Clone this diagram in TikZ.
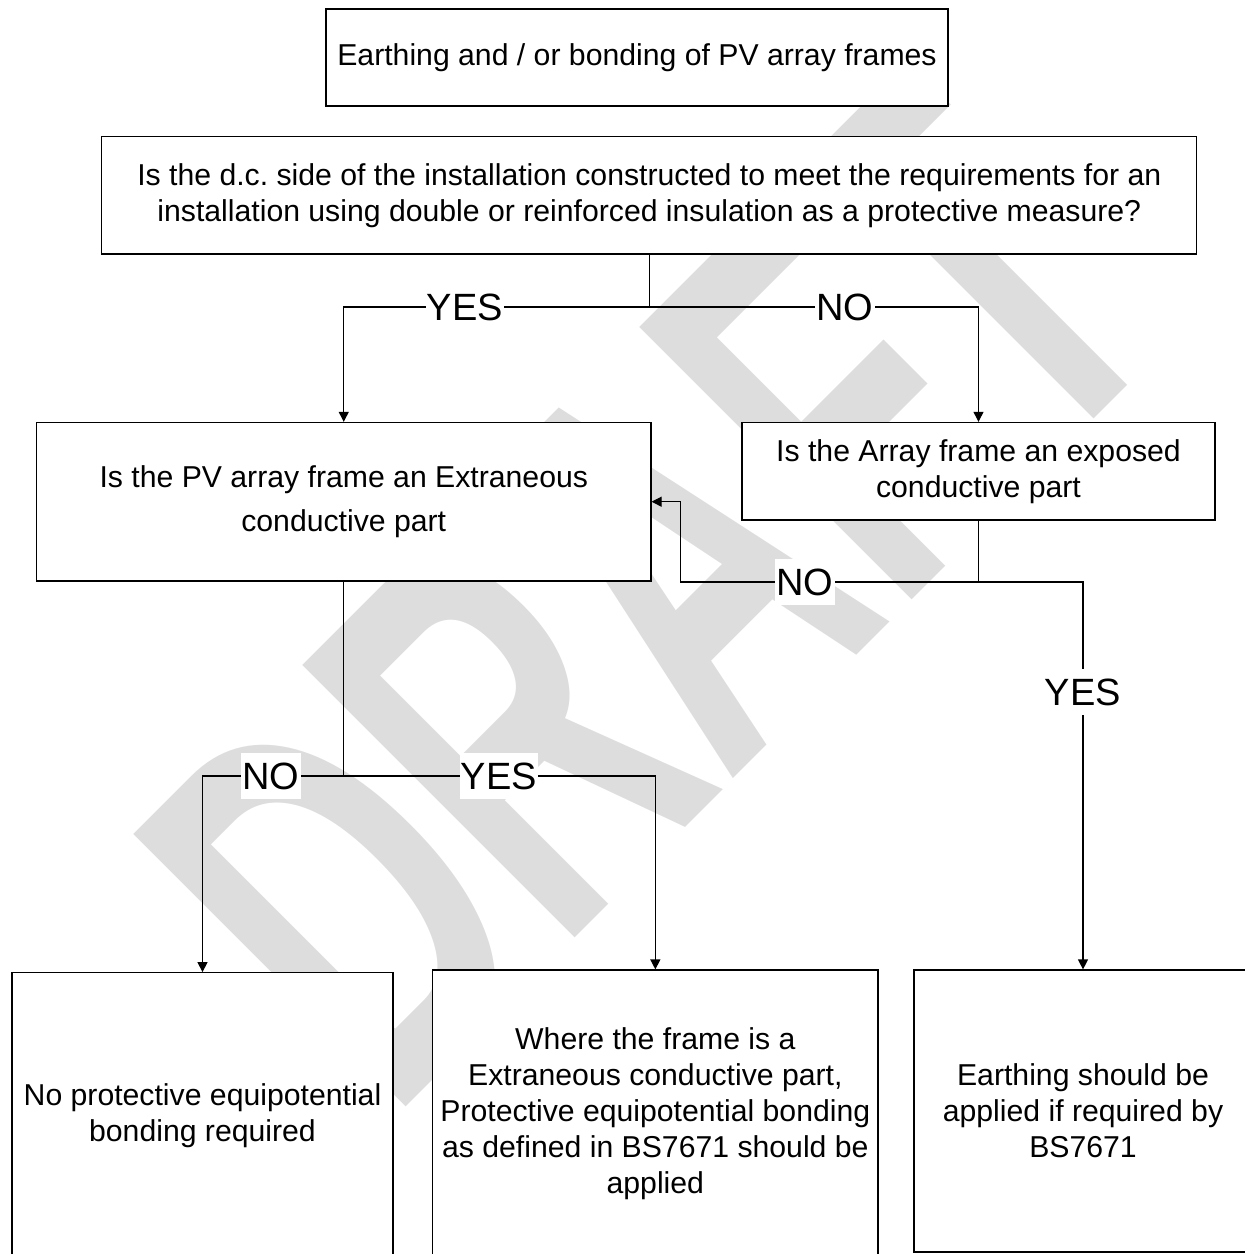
\documentclass[tikz,border=0pt]{standalone}
\usepackage{fontspec}
\setmainfont{Liberation Sans}
\usetikzlibrary{arrows.meta}
\definecolor{wmgray}{HTML}{DDDDDD}
\frenchspacing

\begin{document}
\begin{tikzpicture}[x=0.5pt,y=-0.5pt,
  box/.style={draw=black, fill=white, line width=0.6pt, inner sep=0pt, align=center,
    font=\fontsize{15.1}{18}\selectfont},
  link/.style={black, line width=0.6pt},
  arr/.style={link, -{Triangle[length=5pt,width=5pt]}},
  answer/.style={fill=white, inner xsep=0.6pt, inner ysep=0pt, minimum height=23pt,
    font=\fontsize{19}{19}\selectfont}]

\useasboundingbox (0,0) rectangle (1245,1254);
\clip (0,0) rectangle (1245,1254);

% watermark
\node[text=wmgray, rotate=45, font=\fontsize{280}{290}\selectfont\bfseries] (draft) at (650,590)
  {\scalebox{0.59}[1]{DRAFT}};

% boxes
\node[box, minimum width=311pt, minimum height=48.5pt] (title) at (637,57.5)
  {Earthing and / or bonding of PV array frames};
\node[box, minimum width=547.5pt, minimum height=58.7pt] (qdc) at (649.3,195.3)
  {Is the d.c. side of the installation constructed to meet the requirements for an\\
   installation using double or reinforced insulation as a protective measure?};
\node[box, minimum width=307.25pt, minimum height=79.3pt,
  font=\fontsize{15.1}{22}\selectfont] (qext) at (343.75,501.7)
  {Is the PV array frame an Extraneous\\ conductive part};
\node[box, minimum width=236.5pt, minimum height=48.8pt] (qexp) at (978.5,471.2)
  {Is the Array frame an exposed\\ conductive part};
\node[box, minimum width=190.5pt, minimum height=142.65pt] (nobond) at (202.5,1115.35)
  {No protective equipotential\\ bonding required};
\node[box, minimum width=222.65pt, minimum height=144pt] (bond) at (655.35,1114)
  {Where the frame is a\\ Extraneous conductive part,\\ Protective equipotential bonding\\
   as defined in BS7671 should be\\ applied};
\node[box, minimum width=169pt, minimum height=141pt] (earth) at (1083,1111)
  {Earthing should be\\ applied if required by\\ BS7671};

% connectors
\coordinate (j1) at (649.3,307);
\draw[link] (qdc.south) -- (j1);
\draw[arr] (j1) -| (qext.north);
\draw[arr] (j1) -| (qexp.north);

\coordinate (j2) at (978.5,582);
\coordinate (back) at ([xshift=14.5pt]qext.east);
\draw[link] (qexp.south) -- (j2);
\draw[arr] (j2) -| (back) -- (qext.east);
\draw[arr] (j2) -| (earth.north);

\coordinate (j3) at (343.75,776);
\draw[link] (qext.south) -- (j3);
\draw[arr] (j3) -| (nobond.north);
\draw[arr] (j3) -| (bond.north);

% answers
\node[answer] (yes1) at (465,307) {YES};
\node[answer] (no1) at (845,307) {NO};
\node[answer] (no2) at (805,582) {NO};
\node[answer] (yes2) at (1083,692) {YES};
\node[answer] (no3) at (271,776) {NO};
\node[answer] (yes3) at (499,776) {YES};

\end{tikzpicture}
\end{document}
